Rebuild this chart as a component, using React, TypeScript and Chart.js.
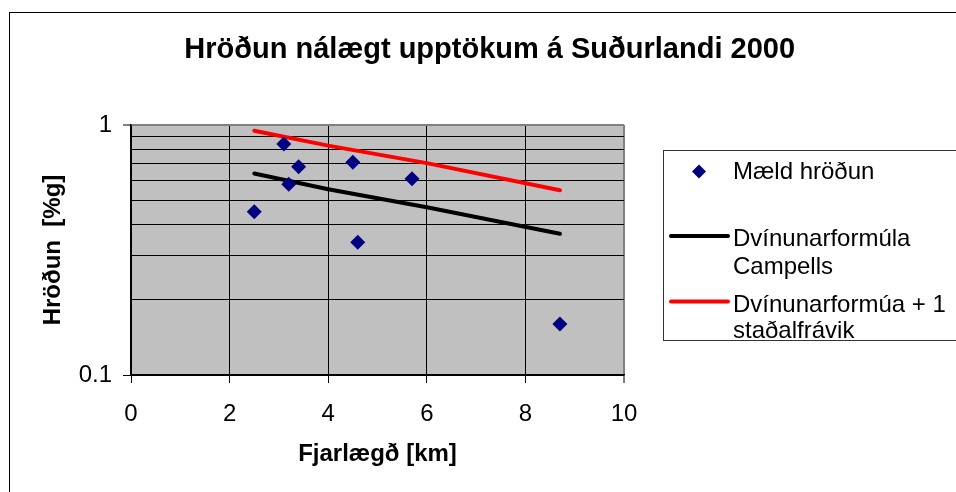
import { useEffect, useRef } from 'react';
import { Chart, registerables } from 'chart.js';

Chart.register(...registerables);

const FONT = '"Liberation Sans", Arial, sans-serif';

const TITLE = 'Hröðun nálægt upptökum á Suðurlandi 2000';
const X_TITLE = 'Fjarlægð [km]';
const Y_TITLE = 'Hröðun  [%g]';

// Measured points
const measuredDistance = [2.5, 3.1, 3.2, 3.4, 4.5, 4.6, 5.7, 8.7];
const measuredAccel = [0.45, 0.84, 0.58, 0.68, 0.71, 0.34, 0.61, 0.16];

// Attenuation curves
const curveDistance = [2.5, 4, 6, 8.7];
const campbellAccel = [0.64, 0.553, 0.469, 0.367];
const campbellPlusSdAccel = [0.949, 0.827, 0.704, 0.548];

const seriesNames = ['Mæld hröðun', 'Dvínunarformúla Campells', 'Dvínunarformúa + 1 staðalfrávik'];
const legendLines = [['Mæld hröðun'], ['Dvínunarformúla', 'Campells'], ['Dvínunarformúa + 1', 'staðalfrávik']];

const xTickValues = [0, 2, 4, 6, 8, 10];
const yGridValues = [0.1, 0.2, 0.3, 0.4, 0.5, 0.6, 0.7, 0.8, 0.9, 1];
const yMajorTicks = [0.1, 1];

const isMajorY = (v: number) => yMajorTicks.some((m) => Math.abs(v - m) < 1e-9);

const decorPlugin = {
  id: 'excelDecor',
  beforeDraw(chart: any) {
    const { ctx, chartArea: a } = chart;
    ctx.save();
    ctx.fillStyle = '#ffffff';
    ctx.fillRect(0, 0, chart.width, chart.height);
    ctx.fillStyle = '#C0C0C0';
    ctx.fillRect(a.left, a.top, a.right - a.left, a.bottom - a.top);
    ctx.restore();
  },
  afterDraw(chart: any) {
    const { ctx } = chart;
    ctx.save();
    // outer chart border
    ctx.strokeStyle = '#000';
    ctx.lineWidth = 1;
    ctx.strokeRect(9.5, 12.5, 1200, 1200);

    // title
    ctx.fillStyle = '#000';
    ctx.font = `bold 29px ${FONT}`;
    ctx.textAlign = 'center';
    ctx.textBaseline = 'alphabetic';
    ctx.fillText(TITLE, 489.7, 58.3);

    // legend box
    ctx.strokeStyle = '#333';
    ctx.lineWidth = 1;
    ctx.strokeRect(663.5, 150.5, 400, 190);

    const ds = chart.data.datasets;
    ctx.font = `24px ${FONT}`;
    ctx.textAlign = 'left';
    const textX = 733;
    const baselines = [[179], [246, 274], [311.5, 338]];
    const sampleY = [171.5, 236, 301.5];

    // marker sample
    ctx.fillStyle = ds[0].backgroundColor;
    ctx.beginPath();
    const cx = 699, cy = sampleY[0], r = 7;
    ctx.moveTo(cx - r, cy);
    ctx.lineTo(cx, cy - r);
    ctx.lineTo(cx + r, cy);
    ctx.lineTo(cx, cy + r);
    ctx.closePath();
    ctx.fill();

    for (let i = 1; i < 3; i++) {
      ctx.strokeStyle = ds[i].borderColor;
      ctx.lineWidth = 4;
      ctx.lineCap = 'round';
      ctx.beginPath();
      ctx.moveTo(671, sampleY[i]);
      ctx.lineTo(728, sampleY[i]);
      ctx.stroke();
    }

    ctx.fillStyle = '#000';
    legendLines.forEach((lines, i) => {
      lines.forEach((t, j) => ctx.fillText(t, textX, baselines[i][j]));
    });
    ctx.restore();
  },
};

export default function App() {
  const ref = useRef<HTMLCanvasElement | null>(null);

  useEffect(() => {
    if (!ref.current) return;
    const chart = new Chart(ref.current, {
      type: 'scatter',
      data: {
        datasets: [
          {
            label: seriesNames[0],
            data: measuredDistance.map((x, i) => ({ x, y: measuredAccel[i] })),
            backgroundColor: '#000080',
            borderColor: '#000080',
            pointStyle: 'rectRot',
            pointRadius: 7.5,
            pointBorderWidth: 0,
            showLine: false,
          },
          {
            label: seriesNames[1],
            data: curveDistance.map((x, i) => ({ x, y: campbellAccel[i] })),
            borderColor: '#000000',
            backgroundColor: '#000000',
            borderWidth: 4,
            borderCapStyle: 'round',
            pointRadius: 0,
            showLine: true,
          },
          {
            label: seriesNames[2],
            data: curveDistance.map((x, i) => ({ x, y: campbellPlusSdAccel[i] })),
            borderColor: '#FF0000',
            backgroundColor: '#FF0000',
            borderWidth: 4,
            borderCapStyle: 'round',
            pointRadius: 0,
            showLine: true,
          },
        ],
      },
      options: {
        responsive: false,
        animation: false,
        devicePixelRatio: 1,
        layout: { padding: { top: 125, left: 0, right: 332, bottom: 0 } },
        plugins: {
          legend: { display: false },
          title: { display: false },
          tooltip: { enabled: false },
        },
        scales: {
          x: {
            type: 'linear',
            min: 0,
            max: 10,
            afterFit: (s: any) => {
              s.height = 117;
            },
            afterBuildTicks: (s: any) => {
              s.ticks = xTickValues.map((v) => ({ value: v }));
            },
            ticks: {
              color: '#000',
              font: { family: FONT, size: 24 },
              padding: 17,
              autoSkip: false,
              maxRotation: 0,
            },
            grid: {
              color: (c: any) => (c.tick && c.tick.value === 10 ? '#808080' : '#000'),
              lineWidth: (c: any) => (c.tick && c.tick.value === 10 ? 2 : 1),
              tickColor: '#000',
              tickLength: 8,
              tickWidth: 1,
            },
            border: { color: '#000', width: 1.5 },
            title: {
              display: true,
              text: X_TITLE,
              color: '#000',
              font: { family: FONT, size: 24, weight: 'bold' },
              padding: { top: 0, bottom: 23 },
            },
          },
          y: {
            type: 'logarithmic',
            min: 0.1,
            max: 1,
            afterFit: (s: any) => {
              s.width = 131;
            },
            afterBuildTicks: (s: any) => {
              s.ticks = yGridValues.map((v) => ({ value: v, major: isMajorY(v) }));
            },
            ticks: {
              color: '#000',
              font: { family: FONT, size: 24 },
              padding: 11,
              autoSkip: false,
              callback: (v: any) => (isMajorY(Number(v)) ? String(Number(v)) : ''),
            },
            grid: {
              color: (c: any) => (c.tick && Math.abs(c.tick.value - 1) < 1e-9 ? '#808080' : '#000'),
              lineWidth: (c: any) => (c.tick && Math.abs(c.tick.value - 1) < 1e-9 ? 2 : 1),
              tickColor: (c: any) => (c.tick && isMajorY(c.tick.value) ? '#000' : 'rgba(0,0,0,0)'),
              tickLength: 8,
              tickWidth: 1,
            },
            border: { color: '#000', width: 1.5 },
            title: {
              display: true,
              text: Y_TITLE,
              color: '#000',
              font: { family: FONT, size: 24, weight: 'bold' },
              padding: { top: 38.5, bottom: 0 },
            },
          },
        },
      },
      plugins: [decorPlugin],
    } as any);
    return () => chart.destroy();
  }, []);

  return (
    <div style={{ position: 'absolute', left: 0, top: 0, width: 956, height: 492 }}>
      <canvas ref={ref} width={956} height={492} style={{ display: 'block' }} />
    </div>
  );
}
